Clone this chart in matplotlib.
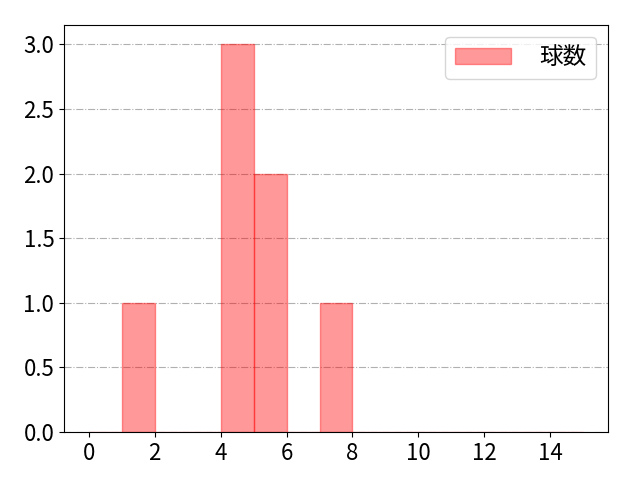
import matplotlib
matplotlib.use('Agg')
import matplotlib.pyplot as plt
import numpy as np

plt.rcParams['font.family'] = ['Noto Sans CJK JP', 'DejaVu Sans']

# pitch counts per value (histogram input)
pitch_values = [1, 4, 4, 4, 5, 5, 7]
bin_edges = list(range(0, 16))
label = '球数'

fig, ax = plt.subplots(figsize=(6.4, 4.8), dpi=100)
ax.hist(pitch_values, bins=bin_edges, color='red', alpha=0.4,
        edgecolor='red', linewidth=1, label=label)
ax.set_xlim(-0.75, 15.75)
ax.set_ylim(0, 3.15)
ax.set_xticks(np.arange(0, 15, 2))
ax.tick_params(labelsize=16)
ax.grid(axis='y', linestyle='-.', color='#b0b0b0')
ax.set_axisbelow(True)
ax.legend(loc='upper right', fontsize=17, handlelength=2.4, handletextpad=1.2)
fig.subplots_adjust(left=0.1, right=0.95, top=0.948, bottom=0.1)
fig.savefig('out.png')
